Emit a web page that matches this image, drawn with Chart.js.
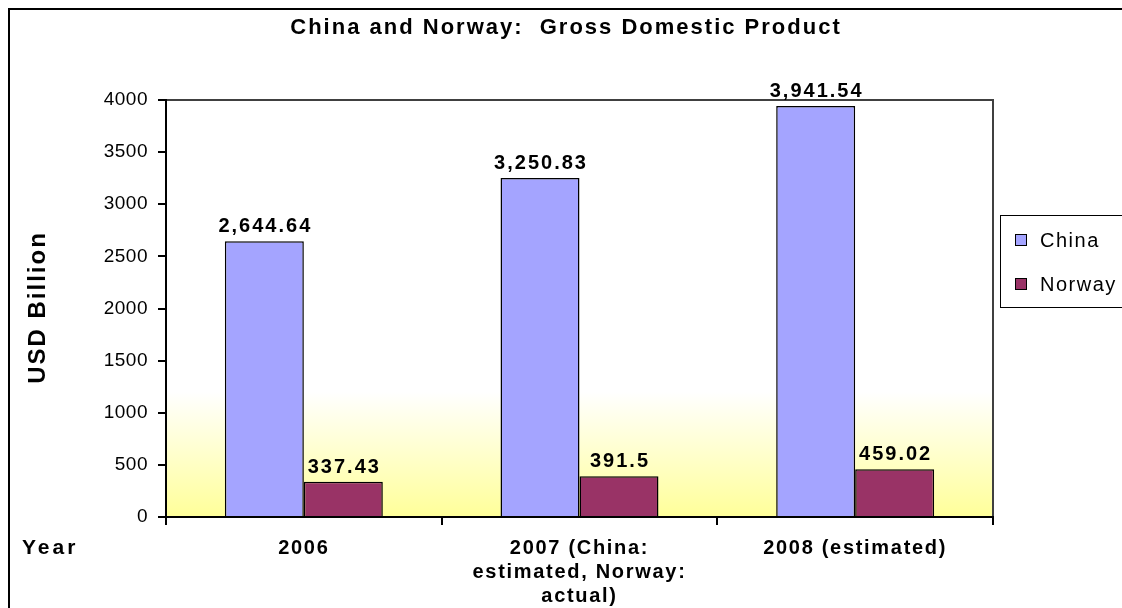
<!DOCTYPE html>
<html>
<head>
<meta charset="utf-8">
<script src="https://cdn.jsdelivr.net/npm/chart.js@4/dist/chart.umd.min.js"></script>
<style>
  html, body { margin: 0; padding: 0; background: #ffffff; }
  #wrap { width: 1122px; height: 608px; }
</style>
</head>
<body>
<div id="wrap"><canvas id="c" width="1122" height="608"></canvas></div>
<script>
// ---- data ----
const categories = ['2006', ['2007 (China:', 'estimated, Norway:', 'actual)'], '2008 (estimated)'];
const seriesNames = ['China', 'Norway'];
const chinaGdp = [2644.64, 3250.83, 3941.54];
const norwayGdp = [337.43, 391.5, 459.02];
const yTicks = [0, 500, 1000, 1500, 2000, 2500, 3000, 3500, 4000];
const chartTitle = 'China and Norway:  Gross Domestic Product';
const yTitle = 'USD Billion';
const xTitle = 'Year';

// ---- styling ----
const FONT = '"Liberation Sans", Arial, sans-serif';
const seriesColors = ['#a4a4ff', '#993366'];

function fmt(v) {
  return v.toLocaleString('en-US', { maximumFractionDigits: 2 });
}

// draw a scale's labels with extra letter spacing
function spacedLabels(scale, spacing) {
  if (scale._spacedWrap) return;
  const orig = scale.drawLabels.bind(scale);
  scale.drawLabels = function (area) {
    const ctx = this.ctx;
    const prev = ctx.letterSpacing;
    ctx.letterSpacing = spacing;
    orig(area);
    ctx.letterSpacing = prev;
  };
  scale._spacedWrap = true;
}

const decor = {
  id: 'decor',
  afterLayout(chart) {
    spacedLabels(chart.scales.x, '1.7px');
    spacedLabels(chart.scales.y, '0.5px');
  },
  beforeDraw(chart) {
    const { ctx, chartArea: a } = chart;
    ctx.save();
    ctx.fillStyle = '#ffffff';
    ctx.fillRect(0, 0, chart.width, chart.height);
    // plot background: white fading into pale yellow near the base
    const g = ctx.createLinearGradient(0, a.top, 0, a.bottom);
    g.addColorStop(0, '#ffffff');
    g.addColorStop(0.7, '#ffffff');
    g.addColorStop(1, '#ffff99');
    ctx.fillStyle = g;
    ctx.fillRect(a.left, a.top, a.right - a.left, a.bottom - a.top);
    // plot frame, top and right
    ctx.strokeStyle = '#404040';
    ctx.lineWidth = 2;
    ctx.beginPath();
    ctx.moveTo(a.left, a.top);
    ctx.lineTo(a.right, a.top);
    ctx.lineTo(a.right, a.bottom);
    ctx.stroke();
    // outer chart frame
    ctx.strokeStyle = '#000000';
    ctx.lineWidth = 2;
    ctx.strokeRect(9, 9, 1300, 800);
    ctx.restore();
  },
  afterDatasetsDraw(chart) {
    const { ctx } = chart;
    ctx.save();
    ctx.letterSpacing = '2px';
    ctx.font = 'bold 20px ' + FONT;
    ctx.fillStyle = '#000000';
    ctx.textAlign = 'center';
    ctx.textBaseline = 'alphabetic';
    chart.data.datasets.forEach((ds, di) => {
      chart.getDatasetMeta(di).data.forEach((bar, i) => {
        ctx.fillText(fmt(ds.data[i]), bar.x + 1, bar.y - 9);
      });
    });
    ctx.restore();
  },
  afterDraw(chart) {
    const { ctx, chartArea: a } = chart;
    ctx.save();
    ctx.fillStyle = '#000000';
    // title
    ctx.letterSpacing = '2px';
    ctx.font = 'bold 22px ' + FONT;
    ctx.textAlign = 'center';
    ctx.textBaseline = 'middle';
    ctx.fillText(chartTitle, 566, 28);
    // y axis title
    ctx.save();
    ctx.letterSpacing = '2px';
    ctx.translate(38, (a.top + a.bottom) / 2);
    ctx.rotate(-Math.PI / 2);
    ctx.font = 'bold 24px ' + FONT;
    ctx.fillText(yTitle, 1, 0);
    ctx.restore();
    // x axis title
    ctx.letterSpacing = '3px';
    ctx.font = 'bold 21px ' + FONT;
    ctx.textAlign = 'left';
    ctx.fillText(xTitle, 22, 548);
    // legend
    ctx.letterSpacing = '1.5px';
    ctx.lineWidth = 1;
    ctx.strokeStyle = '#000000';
    ctx.strokeRect(1000.5, 215.5, 140, 92);
    ctx.font = '20px ' + FONT;
    ctx.textBaseline = 'middle';
    chart.data.datasets.forEach((ds, i) => {
      const y = 240 + i * 44;
      ctx.fillStyle = ds.backgroundColor;
      ctx.fillRect(1015, y - 6, 12, 12);
      ctx.strokeRect(1015.5, y - 5.5, 11, 11);
      ctx.fillStyle = '#000000';
      ctx.fillText(ds.label, 1040, y + 1);
    });
    ctx.restore();
  }
};

new Chart(document.getElementById('c'), {
  type: 'bar',
  data: {
    labels: categories,
    datasets: [
      { label: seriesNames[0], data: chinaGdp, backgroundColor: seriesColors[0], borderColor: '#000000', borderWidth: 1.5 },
      { label: seriesNames[1], data: norwayGdp, backgroundColor: seriesColors[1], borderColor: '#000000', borderWidth: 1.5 }
    ]
  },
  options: {
    responsive: false,
    animation: false,
    devicePixelRatio: 1,
    categoryPercentage: 0.573,
    barPercentage: 1,
    layout: { padding: { left: 0, top: 100, right: 129, bottom: 0 } },
    plugins: { legend: { display: false }, tooltip: { enabled: false }, title: { display: false } },
    scales: {
      x: {
        grid: { display: true, drawOnChartArea: false, offset: true, tickLength: 8, color: '#000000', lineWidth: 2 },
        border: { display: true, color: '#000000', width: 2 },
        ticks: { color: '#000000', font: { family: FONT, size: 20, weight: 'bold', lineHeight: 1.2 }, padding: 11, maxRotation: 0, minRotation: 0, autoSkip: false },
        afterFit: s => { s.height = 91; }
      },
      y: {
        min: 0,
        max: 4000,
        afterBuildTicks: s => { s.ticks = yTicks.map(v => ({ value: v })); },
        grid: { display: true, drawOnChartArea: false, tickLength: 8, color: '#000000', lineWidth: 2 },
        border: { display: true, color: '#000000', width: 2 },
        ticks: { color: '#000000', font: { family: FONT, size: 19 }, padding: 10, callback: v => String(v) },
        afterFit: s => { s.width = 166; }
      }
    }
  },
  plugins: [decor]
});
</script>
</body>
</html>
